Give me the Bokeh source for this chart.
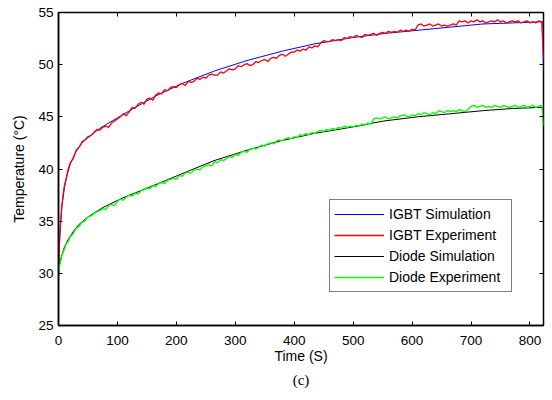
from bokeh.plotting import figure
from bokeh.models import Range1d, LinearAxis, Legend, LegendItem, Title, FixedTicker
from bokeh.embed import file_html
from bokeh.resources import INLINE

# ---- data ----
x_ticks = [0, 100, 200, 300, 400, 500, 600, 700, 800]
y_ticks = [25, 30, 35, 40, 45, 50, 55]

igbt_sim = [(0, 29.2), (1, 32.0), (3, 34.5), (6, 36.5), (10, 38.2), (15, 39.5), (20, 40.5),
            (30, 41.7), (40, 42.5), (50, 43.0), (70, 43.9), (100, 44.9), (130, 45.9),
            (165, 47.0), (210, 48.2), (265, 49.4), (320, 50.4), (380, 51.3), (435, 52.0),
            (500, 52.6), (555, 53.0), (610, 53.3), (665, 53.6), (720, 53.9), (770, 54.0),
            (815, 54.1), (822, 54.1), (823, 49.6)]

diode_sim = [(0, 30.0), (2, 30.9), (5, 31.6), (10, 32.5), (17, 33.3), (25, 34.0), (35, 34.7),
             (50, 35.4), (75, 36.3), (108, 37.2), (143, 38.0), (182, 38.9), (216, 39.7),
             (264, 40.8), (320, 41.8), (377, 42.7), (433, 43.4), (496, 44.0), (552, 44.6),
             (609, 45.0), (666, 45.3), (722, 45.6), (770, 45.8), (815, 45.9), (822, 45.9),
             (823, 44.3)]

igbt_exp = [(0, 30.0), (1, 31.8), (2, 33.6), (3, 34.3), (5, 36.0), (7, 37.2), (10, 38.4),
            (13, 39.1), (16, 39.9), (20, 40.6), (25, 41.0), (30, 41.8), (35, 42.1), (40, 42.6),
            (45, 42.8), (50, 43.1), (55, 43.2),
            (60, 43.5), (65, 43.8), (70, 43.7), (75, 44.0), (80, 44.1), (85, 44.0), (90, 44.4),
            (95, 44.6), (100, 44.8), (105, 45.0), (110, 45.3), (115, 45.1), (120, 45.5),
            (125, 45.9), (130, 45.8), (135, 46.2), (140, 46.4), (145, 46.2), (150, 46.7),
            (155, 46.8), (160, 46.6), (165, 47.1), (170, 47.3), (175, 47.2), (180, 47.6),
            (185, 47.5), (190, 47.8), (195, 47.9), (200, 47.8), (205, 48.1), (210, 48.2),
            (215, 48.0), (220, 48.4), (225, 48.3), (230, 48.4), (235, 48.7), (240, 48.6),
            (245, 48.8), (250, 48.7), (255, 49.0), (260, 49.1), (265, 49.0), (270, 49.0),
            (275, 49.3), (280, 49.2), (285, 49.4), (290, 49.6), (295, 49.5), (300, 49.6),
            (305, 49.9), (310, 49.8), (315, 50.0), (320, 50.1), (325, 49.9), (330, 50.0),
            (335, 50.3), (340, 50.2), (345, 50.4), (350, 50.5), (355, 50.3), (360, 50.6),
            (365, 50.7), (370, 50.6), (375, 50.9), (380, 51.0), (385, 50.8), (390, 51.0),
            (395, 51.2), (400, 51.2), (405, 51.4), (410, 51.3), (415, 51.5), (420, 51.4),
            (425, 51.7), (430, 51.6), (435, 51.8), (440, 51.7), (445, 52.1), (450, 52.3),
            (455, 52.2), (460, 52.2), (465, 52.4), (470, 52.3), (475, 52.4), (480, 52.3),
            (485, 52.6), (490, 52.5), (495, 52.7), (500, 52.6), (505, 52.8), (510, 52.7),
            (515, 52.6), (520, 52.9), (525, 52.8), (530, 52.9), (535, 53.0), (540, 52.8),
            (545, 53.0), (550, 53.1), (555, 53.0), (560, 53.2), (565, 53.1), (570, 53.2),
            (575, 53.1), (580, 53.3), (585, 53.2), (590, 53.3), (595, 53.2), (600, 53.4),
            (605, 53.3), (610, 53.8), (615, 53.9), (620, 53.7), (625, 53.8), (630, 53.9),
            (635, 53.7), (640, 53.8), (645, 53.9), (650, 53.7), (655, 53.8), (660, 53.7),
            (665, 53.8), (670, 53.9), (675, 53.8), (680, 54.2), (685, 54.1), (690, 54.2),
            (695, 54.0), (700, 54.2), (705, 54.1), (710, 54.3), (715, 54.1), (720, 54.2),
            (725, 54.0), (730, 54.1), (735, 54.2), (740, 54.1), (745, 54.3), (750, 54.1),
            (755, 54.2), (760, 54.0), (765, 54.1), (770, 54.2), (775, 54.1), (780, 54.2),
            (785, 54.0), (790, 54.1), (795, 54.2), (800, 54.0), (805, 54.1), (810, 54.0),
            (815, 54.2), (820, 54.1), (823, 50.6)]

diode_exp = [(0, 29.9), (1, 30.3), (2, 30.8), (3, 31.0), (5, 31.5), (7, 31.9), (10, 32.3),
             (13, 32.8), (16, 33.0), (20, 33.5), (25, 33.8), (30, 34.3), (35, 34.5), (40, 34.9),
             (45, 35.0), (50, 35.4), (55, 35.5),
             (60, 35.7), (65, 35.9), (70, 36.0), (75, 36.2), (80, 36.1), (85, 36.5), (90, 36.6),
             (95, 36.5), (100, 36.9), (105, 37.1), (110, 37.0), (115, 37.3), (120, 37.5),
             (125, 37.4), (130, 37.7), (135, 37.6), (140, 37.9), (145, 38.0), (150, 38.2),
             (155, 38.1), (160, 38.4), (165, 38.3), (170, 38.6), (175, 38.7), (180, 38.6),
             (185, 38.9), (190, 39.0), (195, 39.1), (200, 39.0), (205, 39.4), (210, 39.3),
             (215, 39.6), (220, 39.7), (225, 39.6), (230, 39.9), (235, 40.0), (240, 39.9),
             (245, 40.2), (250, 40.3), (255, 40.4), (260, 40.3), (265, 40.7), (270, 40.6),
             (275, 40.9), (280, 40.8), (285, 41.0), (290, 41.2), (295, 41.1), (300, 41.4),
             (305, 41.3), (310, 41.6), (315, 41.7), (320, 41.6), (325, 41.9), (330, 42.0),
             (335, 41.9), (340, 42.1), (345, 42.3), (350, 42.2), (355, 42.4), (360, 42.5),
             (365, 42.4), (370, 42.7), (375, 42.8), (380, 42.7), (385, 42.9), (390, 43.0),
             (395, 42.9), (400, 43.1), (405, 43.0), (410, 43.3), (415, 43.2), (420, 43.4),
             (425, 43.3), (430, 43.5), (435, 43.4), (440, 43.6), (445, 43.7), (450, 43.6),
             (455, 43.8), (460, 43.7), (465, 43.9), (470, 43.8), (475, 44.0), (480, 43.9),
             (485, 44.1), (490, 44.0), (495, 44.1), (500, 44.0), (505, 44.2), (510, 44.1),
             (515, 44.3), (520, 44.2), (525, 44.4), (530, 44.3), (535, 44.8), (540, 44.9),
             (545, 44.8), (550, 44.9), (555, 45.0), (560, 44.8), (565, 44.9), (570, 45.0),
             (575, 44.9), (580, 45.1), (585, 45.2), (590, 45.1), (595, 45.0), (600, 45.2),
             (605, 45.1), (610, 45.3), (615, 45.2), (620, 45.4), (625, 45.3), (630, 45.2),
             (635, 45.4), (640, 45.3), (645, 45.6), (650, 45.5), (655, 45.4), (660, 45.6),
             (665, 45.5), (670, 45.6), (675, 45.5), (680, 45.7), (685, 45.6), (690, 45.5),
             (695, 45.7), (700, 46.0), (705, 46.1), (710, 45.9), (715, 46.0), (720, 46.1),
             (725, 45.9), (730, 46.0), (735, 45.9), (740, 46.1), (745, 46.0), (750, 45.9),
             (755, 46.1), (760, 46.0), (765, 45.9), (770, 46.0), (775, 46.1), (780, 45.9),
             (785, 46.0), (790, 46.1), (795, 45.9), (800, 46.0), (805, 46.1), (810, 45.9),
             (815, 46.0), (820, 46.1), (823, 44.2)]

series_names = ["IGBT Simulation", "IGBT Experiment", "Diode Simulation", "Diode Experiment"]
series_colors = ["#0000ff", "#ff0000", "#000000", "#00ff00"]

FONT = "Liberation Sans"

p = figure(width=552, height=400, output_backend="svg", toolbar_location=None,
           x_range=Range1d(0, 823), y_range=Range1d(25, 55),
           min_border_left=58, min_border_right=9, min_border_top=12, min_border_bottom=75)
p.grid.visible = False
p.outline_line_color = "black"
p.outline_line_width = 1.5
p.background_fill_color = "white"
p.border_fill_color = "white"

def split(pairs):
    return [a for a, _ in pairs], [b for _, b in pairs]

renderers = []
widths = [1.0, 1.3, 1.0, 1.3]
for data, color, w in zip([igbt_sim, igbt_exp, diode_sim, diode_exp], series_colors, widths):
    xs, ys = split(data)
    renderers.append(p.line(xs, ys, line_color=color, line_width=w))

# axes styling
for ax in [p.xaxis[0], p.yaxis[0]]:
    ax.axis_line_width = 1.5
    ax.axis_line_color = "black"
    ax.major_tick_in = 4
    ax.major_tick_out = 0
    ax.minor_tick_line_color = None
    ax.major_tick_line_color = "black"
    ax.major_label_text_font = FONT
    ax.major_label_text_font_size = "13.5px"
    ax.major_label_text_color = "black"
    ax.axis_label_text_font = FONT
    ax.axis_label_text_font_size = "14px"
    ax.axis_label_text_font_style = "normal"
    ax.axis_label_text_color = "black"

p.xaxis[0].ticker = FixedTicker(ticks=x_ticks)
p.yaxis[0].ticker = FixedTicker(ticks=y_ticks)
p.xaxis[0].axis_label = "Time (S)"
p.yaxis[0].axis_label = "Temperature (\u00b0C)"
p.xaxis[0].major_label_standoff = 10
p.xaxis[0].axis_label_standoff = 0
p.yaxis[0].major_label_standoff = 5
p.yaxis[0].axis_label_standoff = 8

# mirrored tick-only axes on top and right
top = LinearAxis(ticker=FixedTicker(ticks=x_ticks))
right = LinearAxis(ticker=FixedTicker(ticks=y_ticks))
for ax in [top, right]:
    ax.axis_line_color = None
    ax.major_tick_in = 4
    ax.major_tick_out = 0
    ax.minor_tick_line_color = None
    ax.major_tick_line_color = "black"
    ax.major_label_text_font_size = "0px"
    ax.major_label_standoff = 0
    ax.major_label_text_color = None
p.add_layout(top, "above")
p.add_layout(right, "right")

legend = Legend(items=[LegendItem(label=n, renderers=[r]) for n, r in zip(series_names, renderers)],
                location=(271, 33))
legend.label_text_font = FONT
legend.label_text_font_size = "14px"
legend.label_text_color = "black"
legend.border_line_color = "black"
legend.border_line_width = 1
legend.background_fill_alpha = 1.0
legend.padding = 4
legend.margin = 0
legend.spacing = 1
legend.label_height = 20
legend.glyph_height = 20
legend.glyph_width = 50
legend.label_standoff = 5
legend.label_width = 118
p.add_layout(legend, "center")

cap = Title(text="(c)", align="center", text_font="Liberation Serif",
            text_font_size="15px", text_font_style="normal", text_color="black",
            standoff=6)
p.add_layout(cap, "below")

open("out.html", "w").write(file_html(p, INLINE))
